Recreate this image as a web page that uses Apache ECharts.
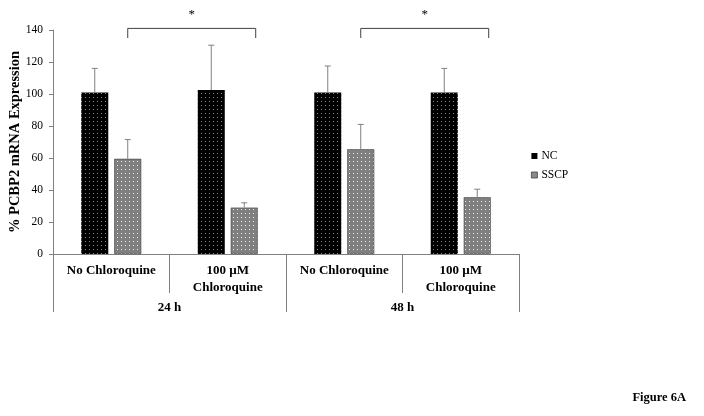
<!DOCTYPE html>
<html>
<head>
<meta charset="utf-8">
<script src="https://cdn.jsdelivr.net/npm/echarts@6/dist/echarts.min.js"></script>
<style>
html,body{margin:0;padding:0;background:#fff;}
#chart{width:704px;height:416px;}
</style>
</head>
<body>
<div id="chart"></div>
<script>
const categories = ['No Chloroquine', '100 \u00b5M\nChloroquine', 'No Chloroquine', '100 \u00b5M\nChloroquine'];
const groups = ['24 h', '48 h'];
const ncValues = [101, 102.5, 101, 101];
const ncErr = [15, 28, 16.5, 15];
const sscpValues = [59.5, 29, 65.5, 35.5];
const sscpErr = [12, 3, 15.5, 5];
const brackets = [[0, 1, 141, 135, '*'], [2, 3, 141, 135, '*']];
const yTicks = {min: 0, max: 140, interval: 20};

const FONT = 'Liberation Serif';

function makePattern(bg, dot) {
  const c = document.createElement('canvas');
  c.width = 4; c.height = 4;
  const g = c.getContext('2d');
  g.fillStyle = bg; g.fillRect(0, 0, 4, 4);
  g.fillStyle = dot; g.fillRect(1, 1, 1, 1);
  return {image: c, repeat: 'repeat'};
}
const ncFill = makePattern('#000000', 'rgba(255,255,255,0.55)');
const sscpFill = makePattern('#7f7f7f', 'rgba(255,255,255,0.85)');

const BAR_W = 0.232, GAP = 0.22;
const OFF = BAR_W * (1 + GAP) / 2;

function errItem(params, api, sign) {
  const bw = api.size([1, 0])[0];
  const base = api.coord([api.value(0), api.value(1)]);
  const top = api.coord([api.value(0), api.value(1) + api.value(2)]);
  const x = base[0] + sign * bw * OFF;
  const cap = 3;
  const st = {stroke: '#808080', lineWidth: 1};
  return {type: 'group', children: [
    {type: 'line', shape: {x1: x, y1: base[1], x2: x, y2: top[1]}, style: st},
    {type: 'line', shape: {x1: x - cap, y1: top[1], x2: x + cap, y2: top[1]}, style: st}
  ]};
}

const chart = echarts.init(document.getElementById('chart'));
chart.setOption({
  animation: false,
  grid: {left: 53, right: 185, top: 30, bottom: 162, containLabel: false, outerBoundsMode: 'none'},
  legend: {
    orient: 'vertical', left: 526, top: 145,
    itemWidth: 6, itemHeight: 6, itemGap: 7,
    icon: 'rect',
    textStyle: {fontFamily: FONT, fontSize: 11.5, color: '#000', padding: [0, 0, 0, -1]},
    data: [
      {name: 'NC', itemStyle: {color: '#000', borderWidth: 0}},
      {name: 'SSCP', itemStyle: {color: '#8a8a8a', borderColor: '#404040', borderWidth: 0.8}}
    ]
  },
  xAxis: [{
    type: 'category', data: categories,
    axisLine: {lineStyle: {color: '#808080'}},
    axisTick: {show: true, interval: 0, length: 39, lineStyle: {color: '#808080'}},
    axisLabel: {interval: 0, margin: 8, fontFamily: FONT, fontSize: 13, fontWeight: 'bold', color: '#000', lineHeight: 17}
  }, {
    type: 'category', data: groups, position: 'bottom',
    axisLine: {show: false},
    axisTick: {show: true, interval: 0, length: 58, lineStyle: {color: '#808080'}},
    axisLabel: {interval: 0, margin: 46, fontFamily: FONT, fontSize: 13, fontWeight: 'bold', color: '#000', lineHeight: 15}
  }],
  yAxis: {
    type: 'value', min: yTicks.min, max: yTicks.max, interval: yTicks.interval,
    name: '% PCBP2 mRNA Expression', nameLocation: 'middle', nameGap: 30, nameMoveOverlap: false,
    nameTextStyle: {fontFamily: FONT, fontSize: 14.5, fontWeight: 'bold', color: '#000'},
    axisLine: {show: true, lineStyle: {color: '#808080'}},
    axisTick: {show: true, length: 4, lineStyle: {color: '#808080'}},
    splitLine: {show: false},
    axisLabel: {fontFamily: FONT, fontSize: 11.5, color: '#000', margin: 10}
  },
  series: [{
    name: 'NC', type: 'bar', data: ncValues,
    barWidth: (BAR_W * 100) + '%', barGap: (GAP * 100) + '%',
    itemStyle: {color: ncFill}
  }, {
    name: 'SSCP', type: 'bar', data: sscpValues,
    barWidth: (BAR_W * 100) + '%',
    itemStyle: {color: sscpFill, borderColor: '#404040', borderWidth: 0.6}
  }, {
    type: 'custom', z: 5, silent: true,
    data: ncValues.map((v, i) => [i, v, ncErr[i]]),
    renderItem: (p, api) => errItem(p, api, -1)
  }, {
    type: 'custom', z: 5, silent: true,
    data: sscpValues.map((v, i) => [i, v, sscpErr[i]]),
    renderItem: (p, api) => errItem(p, api, 1)
  }, {
    type: 'custom', z: 5, silent: true, clip: false,
    data: brackets,
    renderItem: (params, api) => {
      const bw = api.size([1, 0])[0];
      const a = api.coord([api.value(0), api.value(2)]);
      const b = api.coord([api.value(1), api.value(3)]);
      const x1 = a[0] + bw * OFF;
      const x2 = b[0] + bw * 0.24;
      const yTop = a[1], yBot = b[1];
      const st = {stroke: '#404040', lineWidth: 1, fill: null};
      return {type: 'group', children: [
        {type: 'polyline', shape: {points: [[x1, yBot], [x1, yTop], [x2, yTop], [x2, yBot]]}, style: st},
        {type: 'text', style: {text: brackets[params.dataIndex][4], x: (x1 + x2) / 2, y: yTop - 14,
          align: 'center', verticalAlign: 'middle', font: '13px "Liberation Serif"', fill: '#000'}}
      ]};
    }
  }],
  graphic: [{
    type: 'text', right: 18, top: 391,
    style: {text: 'Figure 6A', font: 'bold 12.5px "Liberation Serif"', fill: '#000'}
  }]
});
</script>
</body>
</html>
